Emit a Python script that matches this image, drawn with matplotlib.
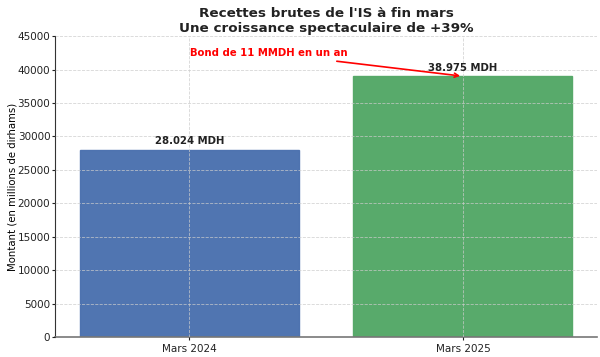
import numpy as np
import matplotlib.pyplot as plt

periodes = ['Mars 2024', 'Mars 2025']
montants = [28024, 38975]
etiquettes = ['28.024 MDH', '38.975 MDH']
couleurs = ['#4C72B0', '#55A868']

fig, ax = plt.subplots(figsize=(6, 3.57), dpi=100)

x = np.arange(len(periodes))
bars = ax.bar(x, montants, width=0.8, color=couleurs, edgecolor=couleurs, alpha=0.98)

for xi, val, lab in zip(x, montants, etiquettes):
    ax.text(xi, val + 500, lab, ha='center', va='bottom', fontsize=7.3, fontweight='bold', color='#222222')

ax.annotate('Bond de 11 MMDH en un an', xy=(1, 39000), xytext=(0.29, 42450),
            ha='center', va='center', color='red', fontsize=7.3, fontweight='bold',
            arrowprops=dict(arrowstyle='->', color='red', lw=1.2, shrinkA=2))

ax.set_xticks(x)
ax.set_xticklabels(periodes)
ax.set_ylim(0, 45000)
ax.set_yticks(np.arange(0, 45001, 5000))
ax.tick_params(labelsize=7.5, length=2, pad=1.5, colors='#222222')
ax.tick_params(axis='x', pad=2.5)
ax.set_ylabel('Montant (en millions de dirhams)', fontsize=7.3)
ax.yaxis.set_label_coords(-0.069, 0.5)
ax.set_title("Recettes brutes de l'IS à fin mars\nUne croissance spectaculaire de +39%",
             fontsize=9.7, fontweight='bold', color='#222222', linespacing=1.15, pad=3)

ax.grid(True, linestyle='--', color='#cccccc', linewidth=0.6, alpha=0.8)
ax.set_axisbelow(False)
ax.spines['top'].set_visible(False)
ax.spines['right'].set_visible(False)
ax.spines['left'].set_color('#333333')
ax.spines['bottom'].set_color('#777777')
ax.spines['bottom'].set_linewidth(1.2)

plt.subplots_adjust(left=0.092, right=0.995, top=0.899, bottom=0.055)
fig.savefig('out.png')
